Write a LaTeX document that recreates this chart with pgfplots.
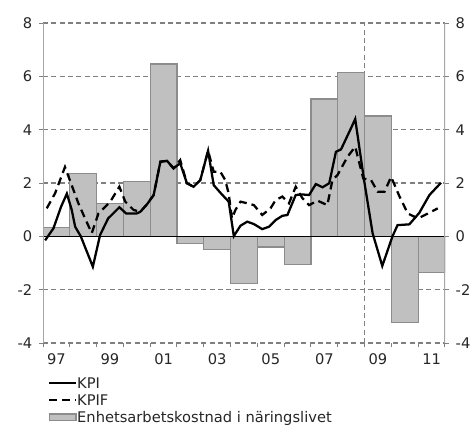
\documentclass[border=0pt]{standalone}
\usepackage{pgfplots}
\pgfplotsset{compat=1.18}
\usepackage{fontspec}
\setmainfont{DejaVu Sans}

\definecolor{barfill}{HTML}{C0C0C0}
\definecolor{baredge}{HTML}{8C8C8C}
\definecolor{gridgray}{HTML}{808080}
\definecolor{axisgray}{HTML}{A6A6A6}

\tikzset{griddash/.style={gridgray, line width=1.1pt, dash pattern=on 3.75pt off 2.5pt}}

\pgfplotsset{
  base/.style={
    scale only axis, width=301.5pt, height=240pt,
    xmin=1997, xmax=2012, ymin=-4, ymax=8,
    ytick={-4,-2,...,8},
    axis line style={draw=none},
    tick align=outside,
    major tick length=3pt, minor tick length=3pt,
    every tick/.style={gridgray, line width=0.75pt},
    tick label style={font=\fontsize{11}{13}\selectfont, text=black!85},
    /pgf/number format/assume math mode=true,
  },
}

\begin{document}
\begin{tikzpicture}
\begin{axis}[base,
  xtick={1997.5,1999.5,...,2011.5},
  xticklabels={97,99,01,03,05,07,09,11},
  xticklabel style={yshift=-1.5pt},
  major x tick style={draw=none},
  minor xtick={1997,...,2012},
  xtick pos=left, ytick pos=left,
  yticklabel style={xshift=-1.5pt},
  ymajorgrids, major grid style={griddash},
  legend cell align=left,
  legend style={draw=none, fill=none, at={(0,0)}, anchor=north west,
    xshift=3.75pt, yshift=-26pt, inner sep=0pt, row sep=4.8pt,
    font=\fontsize{11}{13}\selectfont,
    nodes={inner sep=0pt, text height=8pt, text depth=0pt, text=black!85}},
]
% vertical marker at 2009
\draw[griddash] (axis cs:2009,-4) -- (axis cs:2009,8);

% Enhetsarbetskostnad i näringslivet (annual)
\addplot[ybar interval, fill=barfill, draw=baredge, line width=0.9pt, forget plot]
  coordinates {(1997,0.32) (1998,2.37) (1999,1.22) (2000,2.07) (2001,6.46)
    (2002,-0.26) (2003,-0.48) (2004,-1.77) (2005,-0.40) (2006,-1.06)
    (2007,5.15) (2008,6.15) (2009,4.51) (2010,-3.23) (2011,-1.37) (2012,0)};

\draw[black, line width=1pt] (axis cs:1997,0) -- (axis cs:2012,0);
\draw[axisgray, line width=1.2pt] (rel axis cs:0,0) -- (rel axis cs:0,1);
\draw[axisgray, line width=1.2pt] (rel axis cs:1,0) -- (rel axis cs:1,1);

% KPI
\addplot[black, line width=1.7pt,
  legend image code/.code={\draw[black, line width=1.7pt] (0pt,0pt) -- (20pt,0pt);}]
  coordinates {
  (1997.08,-0.15) (1997.39,0.30) (1997.67,1.10) (1997.89,1.60) (1998.07,1.00)
  (1998.20,0.36) (1998.41,0.00) (1998.86,-1.14) (1999.13,0.05) (1999.43,0.67)
  (1999.85,1.09) (2000.10,0.86) (2000.50,0.86) (2000.63,0.92) (2000.88,1.20)
  (2001.13,1.55) (2001.38,2.80) (2001.63,2.83) (2001.87,2.55) (2002.12,2.74)
  (2002.37,1.99) (2002.62,1.86) (2002.87,2.11) (2003.16,3.21) (2003.37,1.92)
  (2003.65,1.60) (2003.93,1.30) (2004.12,0.01) (2004.37,0.40) (2004.62,0.55)
  (2004.87,0.46) (2005.18,0.27) (2005.43,0.36) (2005.68,0.61) (2005.93,0.77)
  (2006.12,0.80) (2006.43,1.55) (2006.68,1.57) (2006.93,1.55) (2007.18,1.96)
  (2007.43,1.84) (2007.68,1.99) (2007.93,3.17) (2008.12,3.26) (2008.49,4.05)
  (2008.65,4.40) (2008.98,2.11) (2009.30,0.11) (2009.66,-1.11) (2010.04,0.00)
  (2010.23,0.42) (2010.67,0.45) (2011.04,0.88) (2011.42,1.55) (2011.85,2.01)};
\addlegendentry{KPI}

% KPIF
\addplot[black, line width=1.7pt, dash pattern=on 6pt off 3.75pt,
  legend image code/.code={\draw[black, line width=1.7pt, dash pattern=on 6pt off 3.75pt] (0pt,0pt) -- (20pt,0pt);}]
  coordinates {
  (1997.14,1.05) (1997.45,1.61) (1997.82,2.60) (1998.00,2.11) (1998.32,1.24)
  (1998.57,0.67) (1998.82,0.12) (1999.07,0.86) (1999.51,1.30) (1999.85,1.86)
  (2000.07,1.30) (2000.38,0.99) (2000.63,0.92) (2000.88,1.20) (2001.13,1.55)
  (2001.38,2.80) (2001.63,2.83) (2001.87,2.55) (2002.12,2.86) (2002.37,1.99)
  (2002.62,1.86) (2002.87,2.11) (2003.16,3.21) (2003.37,2.42) (2003.62,2.42)
  (2003.80,2.11) (2003.93,1.60) (2004.05,0.67) (2004.18,0.99) (2004.37,1.30)
  (2004.62,1.24) (2004.87,1.17) (2005.18,0.80) (2005.49,1.05) (2005.68,1.36)
  (2005.93,1.49) (2006.18,1.24) (2006.43,1.86) (2006.68,1.43) (2006.93,1.17)
  (2007.24,1.34) (2007.61,1.17) (2007.80,2.11) (2007.99,2.30) (2008.36,2.98)
  (2008.65,3.36) (2008.95,2.17) (2009.24,2.11) (2009.49,1.67) (2009.74,1.67)
  (2009.99,2.23) (2010.30,1.50) (2010.61,0.86) (2010.99,0.67) (2011.35,0.85)
  (2011.73,1.05)};
\addlegendentry{KPIF}

\addlegendimage{legend image code/.code={\draw[fill=barfill, draw=baredge, line width=0.9pt] (0pt,-2.5pt) rectangle (20pt,2.5pt);}}
\addlegendentry{Enhetsarbetskostnad i näringslivet}
\end{axis}

\begin{axis}[base,
  xtick=\empty,
  ytick pos=right, yticklabel pos=right,
  yticklabel style={xshift=1.5pt},
]
\end{axis}

\pgfresetboundingbox
\path (-32.25pt,-62.25pt) rectangle (321.75pt,257.25pt);
\end{tikzpicture}
\end{document}
